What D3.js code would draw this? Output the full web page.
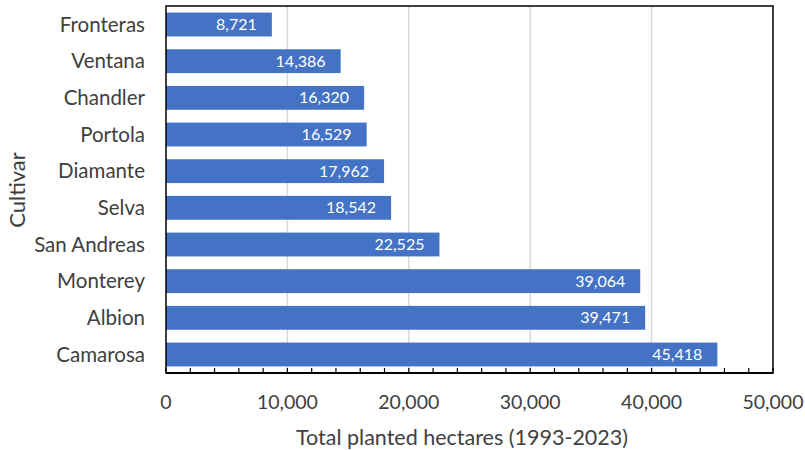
<!DOCTYPE html>
<html>
<head>
<meta charset="utf-8">
<script src="https://cdn.jsdelivr.net/npm/d3@7"></script>
<style>
  body { margin: 0; background: #fff; }
  text { font-family: Lato, "Open Sans", sans-serif; }
</style>
</head>
<body>
<div id="chart"></div>
<script>
const cultivars = ["Fronteras", "Ventana", "Chandler", "Portola", "Diamante", "Selva", "San Andreas", "Monterey", "Albion", "Camarosa"];
const hectares = [8721, 14386, 16320, 16529, 17962, 18542, 22525, 39064, 39471, 45418];
const xTicks = [0, 10000, 20000, 30000, 40000, 50000];

const data = cultivars.map((c, i) => ({ cultivar: c, value: hectares[i] }));

const margin = { top: 6, right: 32, bottom: 77, left: 166 };
const width = 805 - margin.left - margin.right;
const height = 450 - margin.top - margin.bottom;

const svg = d3.select("#chart")
    .append("svg")
    .attr("width", 805)
    .attr("height", 450)
    .append("g")
    .attr("transform", `translate(${margin.left},${margin.top})`);

const xScale = d3.scaleLinear()
    .domain([0, 50000])
    .range([0, width]);

const yScale = d3.scaleBand()
    .domain(cultivars)
    .range([0, height])
    .paddingInner(0.35)
    .paddingOuter(0.18);

// gridlines
svg.selectAll(".grid")
    .data(xTicks.slice(1, -1))
    .enter().append("line")
    .attr("x1", d => xScale(d))
    .attr("x2", d => xScale(d))
    .attr("y1", 0)
    .attr("y2", height)
    .attr("stroke", "#d9d9d9")
    .attr("stroke-width", 1.5);

svg.selectAll(".bar")
    .data(data)
    .enter().append("rect")
    .attr("class", "bar")
    .attr("x", 0)
    .attr("y", d => yScale(d.cultivar))
    .attr("width", d => xScale(d.value))
    .attr("height", yScale.bandwidth())
    .attr("fill", "#4472C4");

svg.selectAll(".label")
    .data(data)
    .enter().append("text")
    .attr("x", d => xScale(d.value) - 15)
    .attr("y", d => yScale(d.cultivar) + yScale.bandwidth() / 2)
    .attr("dy", "0.35em")
    .attr("text-anchor", "end")
    .style("fill", "white")
    .style("font-size", "16px")
    .text(d => d3.format(",")(d.value));

// minor ticks pointing inward
const minorTicks = d3.range(0, 50001, 2000);
svg.selectAll(".mtick")
    .data(minorTicks)
    .enter().append("line")
    .attr("x1", d => xScale(d))
    .attr("x2", d => xScale(d))
    .attr("y1", height)
    .attr("y2", height - 5)
    .attr("stroke", "#000")
    .attr("stroke-width", 1.2);

// frame
svg.append("rect")
    .attr("x", 0)
    .attr("y", 0)
    .attr("width", width)
    .attr("height", height)
    .attr("fill", "none")
    .attr("stroke", "#000")
    .attr("stroke-width", 1.5);

svg.append("line")
    .attr("x1", 0)
    .attr("x2", width)
    .attr("y1", height)
    .attr("y2", height)
    .attr("stroke", "#000")
    .attr("stroke-width", 2);

// x tick labels
svg.selectAll(".xlab")
    .data(xTicks)
    .enter().append("text")
    .attr("x", d => xScale(d))
    .attr("y", height + 29)
    .attr("dy", "0.35em")
    .attr("text-anchor", "middle")
    .style("fill", "#404040")
    .style("font-size", "19.5px")
    .text(d => d3.format(",")(d));

// y category labels
svg.selectAll(".ylab")
    .data(cultivars)
    .enter().append("text")
    .attr("x", -21)
    .attr("y", d => yScale(d) + yScale.bandwidth() / 2)
    .attr("dy", "0.35em")
    .attr("text-anchor", "end")
    .style("fill", "#404040")
    .style("font-size", "20.5px")
    .text(d => d);

svg.append("text")
    .attr("x", 296)
    .attr("y", height + 64)
    .attr("dy", "0.35em")
    .attr("text-anchor", "middle")
    .style("fill", "#404040")
    .style("font-size", "21.5px")
    .text("Total planted hectares (1993-2023)");

svg.append("text")
    .attr("transform", "rotate(-90)")
    .attr("x", -184)
    .attr("y", -149)
    .attr("dy", "0.35em")
    .attr("text-anchor", "middle")
    .style("fill", "#404040")
    .style("font-size", "22px")
    .text("Cultivar");
</script>
</body>
</html>
